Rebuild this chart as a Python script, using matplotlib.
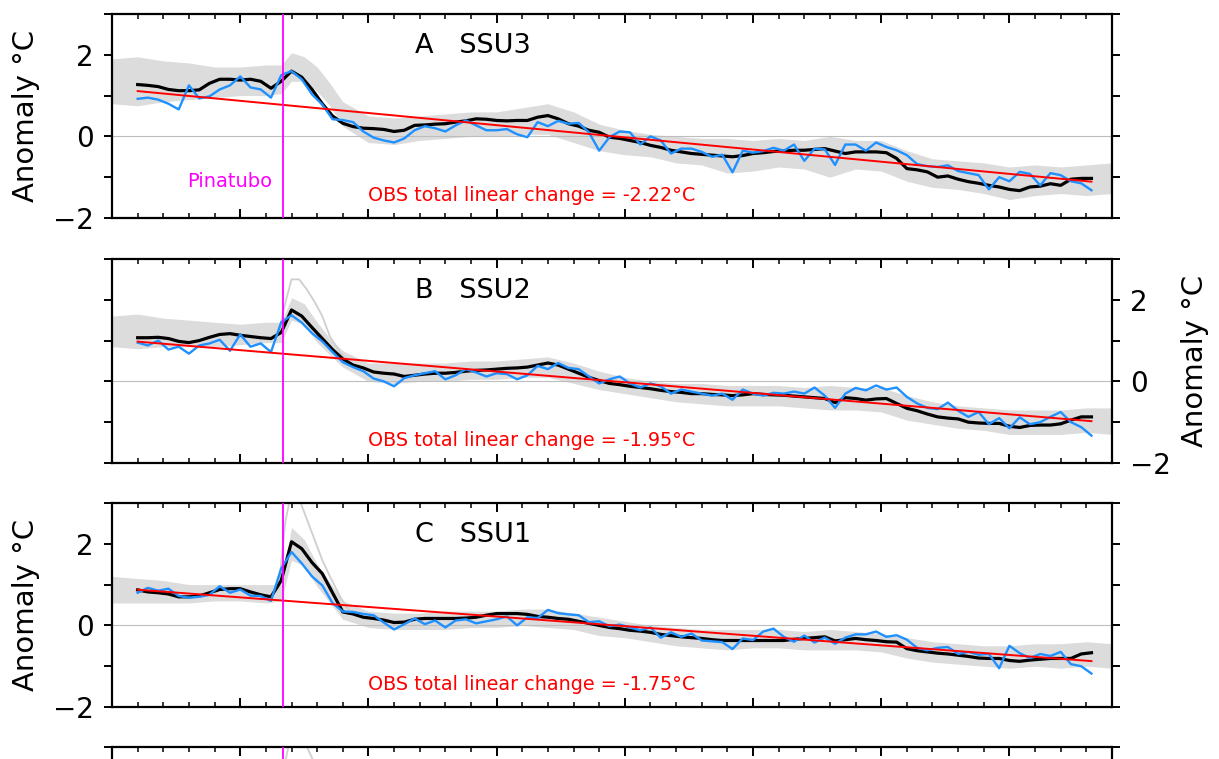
import numpy as np
import matplotlib
matplotlib.use("Agg")
import matplotlib.pyplot as plt
from matplotlib.ticker import FixedLocator, FixedFormatter, MultipleLocator

# sampling grid of the OBS / model-mean series (years)
t_start = 1986.0
t_step = 0.4
n_pts = 94
pinatubo = 1991.67

panel_titles = ["A   SSU3", "B   SSU2", "C   SSU1"]
total_change = ["-2.22", "-1.95", "-1.75"]
trend_years = [1986.0, 2023.2]

# OBS (blue)
blue_a = [0.92, 0.95, 0.90, 0.80, 0.66, 1.25, 0.93, 0.98, 1.15, 1.25,
          1.47, 1.20, 1.15, 0.95, 1.50, 1.60, 1.40, 1.03, 0.78, 0.42,
          0.40, 0.35, 0.12, -0.03, -0.10, -0.15, -0.05, 0.15, 0.25, 0.20,
          0.12, 0.27, 0.39, 0.27, 0.15, 0.15, 0.18, 0.05, -0.02, 0.35,
          0.25, 0.38, 0.31, 0.33, 0.10, -0.35, -0.02, 0.12, 0.10, -0.20,
          0.00, -0.10, -0.42, -0.30, -0.30, -0.38, -0.50, -0.45, -0.88, -0.35,
          -0.40, -0.36, -0.28, -0.35, -0.20, -0.60, -0.30, -0.32, -0.70, -0.20,
          -0.20, -0.35, -0.15, -0.26, -0.34, -0.46, -0.68, -0.73, -0.75, -0.71,
          -0.85, -0.90, -0.95, -1.30, -1.00, -1.10, -0.87, -0.92, -1.20, -0.90,
          -0.95, -1.10, -1.15, -1.32]
blue_b = [0.95, 0.88, 1.00, 0.78, 0.85, 0.68, 0.88, 0.93, 1.02, 0.75,
          1.15, 0.85, 0.93, 0.72, 1.45, 1.62, 1.44, 1.18, 0.98, 0.72,
          0.47, 0.35, 0.25, 0.07, 0.00, -0.12, 0.08,
          0.15, 0.20, 0.25, 0.05, 0.15, 0.30, 0.22, 0.12, 0.20, 0.18,
          0.05, 0.15, 0.38, 0.30, 0.45, 0.33, 0.30, 0.12, -0.05, 0.05,
          0.12, -0.05, -0.15, -0.05, -0.12, -0.30, -0.20, -0.25, -0.30, -0.35,
          -0.30, -0.45, -0.20, -0.30, -0.35, -0.28, -0.30,
          -0.25, -0.30, -0.15, -0.35, -0.65, -0.30, -0.16, -0.22, -0.10, -0.20,
          -0.15, -0.38, -0.54, -0.65, -0.68, -0.52, -0.72, -0.87, -0.75, -1.05,
          -0.90, -1.15, -0.88, -1.05, -1.00, -0.87, -0.75, -1.00, -1.12, -1.33]
blue_c = [0.80, 0.92, 0.85, 0.90, 0.72, 0.68, 0.70, 0.75, 0.96, 0.80,
          0.88, 0.73, 0.72, 0.60, 1.40, 1.80, 1.52, 1.20, 0.98, 0.55,
          0.34, 0.33, 0.28, 0.25, 0.07, -0.10, 0.03,
          0.17, 0.03, 0.12, -0.05, 0.12, 0.15, 0.05, 0.10, 0.15, 0.22,
          0.00, 0.20, 0.18, 0.38, 0.30, 0.27, 0.25, 0.08, 0.10, -0.02,
          0.02, -0.05, -0.12, -0.05, -0.30, -0.17, -0.28, -0.20, -0.37, -0.39,
          -0.41, -0.58, -0.32, -0.36, -0.15, -0.08, -0.28,
          -0.40, -0.25, -0.42, -0.30, -0.45, -0.30, -0.22, -0.22, -0.15, -0.28,
          -0.24, -0.35, -0.55, -0.61, -0.55, -0.53, -0.70, -0.65, -0.72, -0.70,
          -1.05, -0.50, -0.68, -0.80, -0.70, -0.75, -0.65, -0.95, -1.00, -1.18]

# model mean (black)
black_a = [1.27, 1.25, 1.22, 1.15, 1.12, 1.12, 1.14, 1.30, 1.40, 1.40,
           1.38, 1.40, 1.35, 1.18, 1.35, 1.60, 1.45, 1.15, 0.80, 0.50,
           0.32, 0.24, 0.20, 0.19, 0.17, 0.12, 0.15, 0.27, 0.28, 0.30,
           0.31, 0.35, 0.38, 0.43, 0.42, 0.39, 0.38, 0.39, 0.39, 0.47,
           0.51, 0.43, 0.31, 0.25, 0.15, 0.10, -0.02, -0.05, -0.10, -0.15,
           -0.22, -0.27, -0.34, -0.38, -0.42, -0.44, -0.46, -0.48, -0.50, -0.47,
           -0.42, -0.40, -0.37, -0.36, -0.34, -0.34, -0.32, -0.30, -0.36, -0.42,
           -0.38, -0.38, -0.38, -0.40, -0.54, -0.79, -0.82, -0.87, -1.00, -0.97,
           -1.05, -1.11, -1.15, -1.20, -1.24, -1.30, -1.33, -1.24, -1.22, -1.16,
           -1.20, -1.05, -1.03, -1.03]
black_b = [1.07, 1.07, 1.08, 1.05, 0.98, 0.95, 1.00, 1.08, 1.15, 1.17,
           1.13, 1.10, 1.07, 1.05, 1.20, 1.75, 1.60, 1.32, 1.05, 0.78,
           0.55, 0.40, 0.33, 0.23, 0.20, 0.18, 0.12,
           0.15, 0.18, 0.20, 0.20, 0.22, 0.25, 0.27, 0.28, 0.30, 0.32,
           0.33, 0.35, 0.40, 0.45, 0.40, 0.30, 0.20, 0.10, 0.02, -0.05,
           -0.08, -0.12, -0.15, -0.18, -0.22, -0.25, -0.27, -0.30, -0.30, -0.32,
           -0.33, -0.35, -0.33, -0.30, -0.32, -0.33,
           -0.34, -0.36, -0.38, -0.40, -0.42, -0.52, -0.40, -0.42, -0.46, -0.43,
           -0.42, -0.54, -0.66, -0.72, -0.80, -0.87, -0.90, -0.92, -1.00, -1.02,
           -1.03, -1.03, -1.10, -1.13, -1.08, -1.07, -1.07, -1.04, -0.95, -0.87,
           -0.87]
black_c = [0.87, 0.82, 0.80, 0.77, 0.70, 0.70, 0.72, 0.80, 0.88, 0.90,
           0.90, 0.82, 0.75, 0.70, 1.10, 2.05, 1.88, 1.54, 1.27, 0.80,
           0.33, 0.28, 0.20, 0.17, 0.13, 0.07, 0.08,
           0.15, 0.17, 0.17, 0.17, 0.17, 0.18, 0.20, 0.25, 0.29, 0.29,
           0.29, 0.27, 0.22, 0.20, 0.17, 0.15, 0.10, 0.05, 0.00, -0.05,
           -0.08, -0.12, -0.14, -0.17, -0.22, -0.25, -0.28, -0.30, -0.32, -0.35,
           -0.37, -0.37, -0.37, -0.37, -0.37, -0.37, -0.37,
           -0.34, -0.32, -0.30, -0.28, -0.38, -0.35, -0.32, -0.35, -0.37, -0.40,
           -0.41, -0.57, -0.62, -0.65, -0.68, -0.70, -0.73, -0.76, -0.80, -0.81,
           -0.81, -0.86, -0.88, -0.85, -0.83, -0.81, -0.81, -0.81, -0.70, -0.67]

# OBS linear trend (red), start / end values
trend_a = [1.11, -1.11]
trend_b = [0.975, -0.975]
trend_c = [0.875, -0.875]

# model ensemble spread (grey)
gray_years = [1985, 1986, 1987, 1988, 1989, 1990, 1991, 1991.6, 1992, 1992.5,
              1993, 1993.5, 1994, 1995, 1996, 1997, 1998, 1999, 2000, 2001,
              2002, 2003, 2004, 2005, 2006, 2007, 2008, 2009, 2010, 2011,
              2012, 2013, 2014, 2015, 2016, 2017, 2018, 2019, 2020, 2021,
              2022, 2023, 2024]
gray_hi_a = [1.9, 1.95, 1.85, 1.8, 1.7, 1.7, 1.75, 1.75, 2.05, 1.95, 1.7, 1.3,
             0.85, 0.5, 0.45, 0.5, 0.55, 0.6, 0.6, 0.7, 0.8, 0.6, 0.3, 0.15, 0.05, 0.0,
             -0.05, -0.05, -0.1, -0.05, -0.1, 0.0, -0.1, -0.1, -0.35, -0.55, -0.6, -0.65,
             -0.75, -0.7, -0.75, -0.7, -0.65]
gray_lo_a = [0.8, 0.75, 0.85, 0.9, 0.95, 1.0, 1.0, 1.05, 1.35, 1.35, 1.1, 0.75,
             0.25, -0.15, -0.2, -0.1, -0.05, 0.0, 0.0, 0.05, 0.05, -0.15, -0.35, -0.45, -0.5, -0.65,
             -0.7, -0.9, -0.85, -0.75, -0.8, -1.0, -0.8, -0.85, -1.1, -1.25, -1.3, -1.4,
             -1.55, -1.45, -1.4, -1.45, -1.4]
gray_hi_b = [1.6, 1.65, 1.55, 1.5, 1.45, 1.4, 1.45, 1.45, 2.05, 1.9, 1.45, 1.05,
             0.75, 0.45, 0.45, 0.45, 0.45, 0.5, 0.5, 0.55, 0.6, 0.45, 0.25, 0.1, 0.0, -0.05,
             -0.05, -0.1, -0.1, -0.1, -0.15, -0.1, -0.15, -0.15, -0.35, -0.5, -0.6, -0.65,
             -0.7, -0.7, -0.7, -0.65, -0.65]
gray_lo_b = [0.85, 0.8, 0.85, 0.85, 0.85, 0.9, 0.95, 0.95, 1.5, 1.4, 0.95, 0.65,
             0.35, 0.0, -0.05, 0.0, 0.0, 0.05, 0.05, 0.1, 0.1, -0.05, -0.2, -0.3, -0.4, -0.5,
             -0.55, -0.6, -0.6, -0.6, -0.65, -0.7, -0.7, -0.75, -0.95, -1.05, -1.15, -1.2,
             -1.3, -1.3, -1.3, -1.25, -1.3]
gray_hi_c = [1.2, 1.15, 1.1, 1.0, 1.0, 1.0, 1.0, 1.0, 2.4, 2.1, 1.5, 1.05,
             0.6, 0.35, 0.3, 0.3, 0.35, 0.35, 0.35, 0.4, 0.4, 0.3, 0.2, 0.1, 0.0, -0.05,
             -0.1, -0.1, -0.1, -0.1, -0.15, -0.1, -0.15, -0.2, -0.3, -0.4, -0.45, -0.5,
             -0.5, -0.45, -0.45, -0.4, -0.45]
gray_lo_c = [0.55, 0.55, 0.55, 0.55, 0.6, 0.6, 0.55, 0.6, 1.6, 1.45, 0.95, 0.55,
             0.15, -0.05, -0.1, -0.1, -0.1, -0.05, -0.05, 0.0, -0.05, -0.1, -0.25, -0.3, -0.4, -0.5,
             -0.55, -0.6, -0.55, -0.55, -0.6, -0.6, -0.6, -0.65, -0.8, -0.9, -0.95, -1.0,
             -1.05, -1.0, -1.05, -1.0, -1.05]

# single ensemble members that stick out after the eruption
spike_years = [1991.5, 1991.75, 1992.0, 1992.3, 1992.6, 1992.9, 1993.2, 1993.5, 1993.9, 1994.3]
spike_b = [1.2, 1.9, 2.5, 2.5, 2.25, 1.95, 1.6, 1.1, 0.7, 0.45]
spike_c = [0.9, 2.5, 3.3, 3.1, 2.6, 2.1, 1.6, 1.2, 0.7, 0.3]
spike_d = [1.0, 2.6, 3.4, 3.3, 3.0, 2.6, 2.1, 1.6, 1.0, 0.5]

yticks = [-2, -1, 0, 1, 2, 3]
yticklabels = ["\u22122", "", "0", "", "2", ""]

t = t_start + t_step * np.arange(n_pts)

panels = [
    dict(blue=blue_a, black=black_a, trend=trend_a, hi=gray_hi_a, lo=gray_lo_a, spike=None, side="left"),
    dict(blue=blue_b, black=black_b, trend=trend_b, hi=gray_hi_b, lo=gray_lo_b, spike=spike_b, side="right"),
    dict(blue=blue_c, black=black_c, trend=trend_c, hi=gray_hi_c, lo=gray_lo_c, spike=spike_c, side="left"),
]

fig = plt.figure(figsize=(12.19, 7.59), dpi=100)
left, width, height = 0.0919, 0.8203, 0.2688
bottoms = [0.7128, 0.3900, 0.0685, 0.0158 - 0.2688]


def style_axis(ax, side):
    ax.set_xlim(1985, 2024)
    ax.set_ylim(-2, 3)
    for s in ax.spines.values():
        s.set_linewidth(1.6)
    ax.xaxis.set_major_locator(MultipleLocator(5))
    ax.xaxis.set_minor_locator(MultipleLocator(1))
    ax.tick_params(axis="x", which="both", direction="in", top=True, bottom=True, labelbottom=False)
    ax.tick_params(axis="x", which="major", length=6.5, width=1.4)
    ax.tick_params(axis="x", which="minor", length=3.3, width=1.1)
    ax.yaxis.set_major_locator(FixedLocator(yticks))
    ax.yaxis.set_major_formatter(FixedFormatter(yticklabels))
    ax.tick_params(axis="y", direction="out", left=True, right=True, length=6, width=1.4,
                   labelsize=20, pad=7)
    if side == "left":
        ax.tick_params(axis="y", labelleft=True, labelright=False)
        ax.set_ylabel("Anomaly \u00b0C", fontsize=21)
        ax.yaxis.set_label_coords(-0.072, 0.5)
    elif side == "right":
        ax.tick_params(axis="y", labelleft=False, labelright=True)
        ax.yaxis.set_label_position("right")
        ax.set_ylabel("Anomaly \u00b0C", fontsize=21)
        ax.yaxis.set_label_coords(1.069, 0.5)
    else:
        ax.tick_params(axis="y", labelleft=False, labelright=False)


for i, p in enumerate(panels):
    ax = fig.add_axes([left, bottoms[i], width, height])
    style_axis(ax, p["side"])
    ax.fill_between(gray_years, p["lo"], p["hi"], color="#dcdcdc", lw=0, zorder=1)
    if p["spike"] is not None:
        ax.plot(spike_years, p["spike"], color="#cfcfcf", lw=1.3, zorder=1.5)
    ax.axhline(0, color="#bdbdbd", lw=0.8, zorder=1.8)
    ax.plot(t, p["black"], color="black", lw=2.3, zorder=3)
    ax.plot(t, p["blue"], color="#1e90ff", lw=1.7, zorder=4)
    ax.plot(trend_years, p["trend"], color="red", lw=1.4, zorder=5)
    ax.axvline(pinatubo, color="#ff00ff", lw=1.3, zorder=6)
    ax.text(0.303, 0.845, panel_titles[i], transform=ax.transAxes, fontsize=19.5,
            ha="left", va="center")
    ax.text(0.256, 0.112, "OBS total linear change = %s\u00b0C" % total_change[i],
            transform=ax.transAxes, fontsize=13.8, color="red", ha="left", va="center")
    if i == 0:
        ax.text(pinatubo - 0.42, -1.1, "Pinatubo", fontsize=14, color="#ff00ff",
                ha="right", va="center")

# fourth panel, only its top edge is inside the figure
ax = fig.add_axes([left, bottoms[3], width, height])
style_axis(ax, "none")
ax.plot(spike_years, spike_d, color="#cfcfcf", lw=1.3, zorder=1.5)
ax.axvline(pinatubo, color="#ff00ff", lw=1.3, zorder=6)

fig.savefig("out.png", dpi=100)
